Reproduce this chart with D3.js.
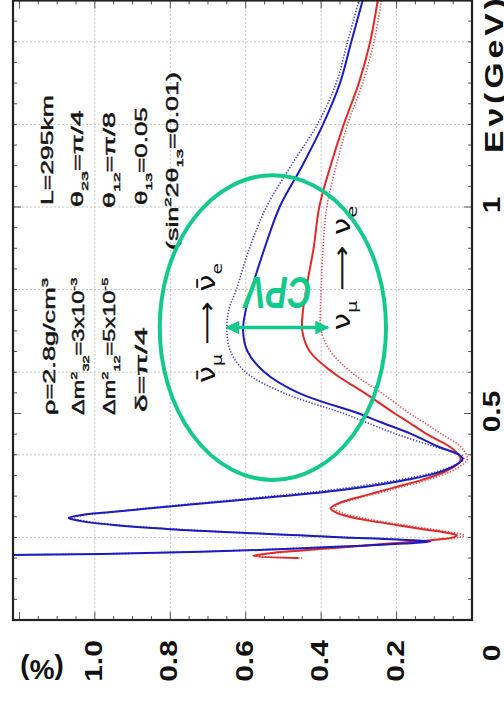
<!DOCTYPE html>
<html>
<head>
<meta charset="utf-8">
<script src="https://cdn.jsdelivr.net/npm/d3@7"></script>
<style>
  body { margin: 0; background: #fff; }
  svg { display: block; font-family: "Liberation Sans", Arial, sans-serif; }
</style>
</head>
<body>
<div id="chart"></div>
<script>
// neutrino energy (GeV), shared by all four curves
const energy = [0.150, 0.155, 0.160, 0.165, 0.170, 0.175, 0.180, 0.185, 0.190, 0.195,
  0.200, 0.205, 0.210, 0.220, 0.230, 0.240, 0.247, 0.255, 0.260, 0.270,
  0.280, 0.290, 0.300, 0.310, 0.320, 0.340, 0.360, 0.380, 0.390, 0.400,
  0.420, 0.450, 0.480, 0.500, 0.550, 0.600, 0.650, 0.700, 0.750, 0.800,
  0.900, 1.000, 1.100, 1.200, 1.300, 1.400, 1.500];

// anti-numu -> anti-nue probability (%), blue
const pAntiSolid = [1.60, 1.40, 0.98, 0.72, 0.55, 0.42, 0.29, 0.18, 0.11, 0.20,
  0.34, 0.46, 0.58, 0.80, 0.95, 1.04, 1.07, 1.03, 0.97, 0.86,
  0.74, 0.62, 0.50, 0.39, 0.30, 0.17, 0.08, 0.035, 0.025, 0.035,
  0.09, 0.16, 0.245, 0.30, 0.46, 0.55, 0.595, 0.607, 0.60, 0.585,
  0.55, 0.51, 0.45, 0.395, 0.35, 0.32, 0.29];
const pAntiDotted = [1.62, 1.42, 0.99, 0.74, 0.57, 0.43, 0.30, 0.19, 0.12, 0.19,
  0.33, 0.45, 0.57, 0.79, 0.94, 1.03, 1.06, 1.02, 0.97, 0.87,
  0.76, 0.64, 0.53, 0.42, 0.33, 0.19, 0.09, 0.035, 0.022, 0.03,
  0.10, 0.20, 0.285, 0.34, 0.50, 0.60, 0.64, 0.65, 0.645, 0.625,
  0.59, 0.545, 0.48, 0.41, 0.36, 0.33, 0.30];

// numu -> nue probability (%), red
const pNuSolid = [0.46, 0.58, 0.55, 0.50, 0.43, 0.36, 0.29, 0.22, 0.15, 0.09,
  0.05, 0.04, 0.06, 0.13, 0.20, 0.27, 0.31, 0.345, 0.36, 0.375,
  0.36, 0.33, 0.29, 0.25, 0.21, 0.13, 0.07, 0.035, 0.03, 0.035,
  0.06, 0.12, 0.17, 0.205, 0.285, 0.37, 0.43, 0.45, 0.448, 0.44,
  0.42, 0.405, 0.375, 0.34, 0.30, 0.27, 0.25];
const pNuDotted = [0.45, 0.57, 0.54, 0.49, 0.42, 0.35, 0.28, 0.21, 0.14, 0.08,
  0.035, 0.02, 0.04, 0.11, 0.18, 0.25, 0.29, 0.33, 0.345, 0.365,
  0.355, 0.32, 0.28, 0.235, 0.195, 0.115, 0.055, 0.02, 0.012, 0.015,
  0.03, 0.08, 0.13, 0.165, 0.24, 0.32, 0.375, 0.40, 0.402, 0.40,
  0.395, 0.385, 0.36, 0.33, 0.29, 0.26, 0.24];

const probTicks = [1.0, 0.8, 0.6, 0.4, 0.2];
const energyTicks = [0.5, 1];
const energyGrid = [0.2, 0.4, 0.6, 0.8, 1.0, 1.2, 1.4];

const width = 504, height = 706;
const green = "#14c98c";

const svg = d3.select("#chart").append("svg")
  .attr("width", width)
  .attr("height", height);

// the figure is turned a quarter turn: probability runs right to left, energy bottom to top
const x = d3.scaleLinear().domain([0, 1.217]).range([472, 13]);
const y = d3.scaleLinear().domain([0, 1.5]).range([620, 0.5]);

svg.append("clipPath").attr("id", "plot")
  .append("rect")
  .attr("x", x(1.217)).attr("y", y(1.5))
  .attr("width", x(0) - x(1.217)).attr("height", y(0) - y(1.5));

// grid
svg.selectAll(".vgrid").data(probTicks).enter().append("line")
  .attr("x1", d => x(d)).attr("x2", d => x(d))
  .attr("y1", y(0)).attr("y2", y(1.5))
  .attr("stroke", "#c4c4c4").attr("stroke-dasharray", "2,2");
svg.selectAll(".hgrid").data(energyGrid).enter().append("line")
  .attr("y1", d => y(d)).attr("y2", d => y(d))
  .attr("x1", x(0)).attr("x2", x(1.217))
  .attr("stroke", "#c4c4c4").attr("stroke-dasharray", "2,2");

// inner ticks
const pMinor = d3.range(1, 25).map(i => i * 0.05);
const eMinor = d3.range(1, 30).map(i => i * 0.05);
const isMajorP = d => Math.abs(d * 5 - Math.round(d * 5)) < 1e-6;
const isMajorE = d => Math.abs(d * 2 - Math.round(d * 2)) < 1e-6;
[y(0), y(1.5)].forEach((yy, k) => {
  svg.selectAll(null).data(pMinor).enter().append("line")
    .attr("x1", d => x(d)).attr("x2", d => x(d))
    .attr("y1", yy)
    .attr("y2", d => yy + (k ? 1 : -1) * (isMajorP(d) ? 8 : 4))
    .attr("stroke", "#555");
});
[x(0), x(1.217)].forEach((xx, k) => {
  svg.selectAll(null).data(eMinor).enter().append("line")
    .attr("y1", d => y(d)).attr("y2", d => y(d))
    .attr("x1", xx)
    .attr("x2", d => xx + (k ? 1 : -1) * (isMajorE(d) ? 8 : 4))
    .attr("stroke", "#555");
});

// curves
const curves = [
  { p: pNuDotted, color: "#e8504f", dash: "1.3,1.7", w: 1.6 },
  { p: pAntiDotted, color: "#4040d8", dash: "1.3,1.7", w: 1.6 },
  { p: pNuSolid, color: "#e02a2a", dash: null, w: 2 },
  { p: pAntiSolid, color: "#1c1cc0", dash: null, w: 2 }
];
const line = d3.line()
  .x(d => x(d[1]))
  .y(d => y(d[0]))
  .curve(d3.curveCatmullRom.alpha(0.5));
const gCurves = svg.append("g").attr("clip-path", "url(#plot)");
curves.forEach(c => {
  gCurves.append("path")
    .datum(energy.map((e, i) => [e, c.p[i]]))
    .attr("d", line)
    .attr("fill", "none")
    .attr("stroke", c.color)
    .attr("stroke-width", c.w)
    .attr("stroke-dasharray", c.dash);
});

// frame
svg.append("rect")
  .attr("x", x(1.217)).attr("y", y(1.5))
  .attr("width", x(0) - x(1.217)).attr("height", y(0) - y(1.5))
  .attr("fill", "none").attr("stroke", "#222").attr("stroke-width", 2.2);

// text helpers
function richText(g, segs, size, anchor) {
  const t = g.append("text").attr("font-size", size).attr("text-anchor", anchor);
  let cur = 0;
  segs.forEach(([s, m]) => {
    const shift = m === "sup" ? -0.42 * size : m === "sub" ? 0.3 * size : 0;
    t.append("tspan")
      .attr("dy", shift - cur)
      .attr("font-size", m ? size * 0.62 : size)
      .text(s);
    cur = shift;
  });
  return t;
}
function place(t, tx, ty, angle, target) {
  const w = t.node().getBBox().width;
  const s = target ? target / w : 1;
  t.attr("transform", `translate(${tx},${ty}) rotate(${angle}) scale(${s},1)`);
}

// parameter block (reads bottom to top)
const params = [
  { segs: [["ρ=2.8g/cm", ""], ["3", "sup"]], bx: 55, sy: 415, len: 138 },
  { segs: [["Δm", ""], ["2", "sup"], ["32", "sub"], ["=3x10", ""], ["-3", "sup"]], bx: 84, sy: 415, len: 138 },
  { segs: [["Δm", ""], ["2", "sup"], ["12", "sub"], ["=5x10", ""], ["-5", "sup"]], bx: 115, sy: 415, len: 138 },
  { segs: [["δ=π/4", ""]], bx: 147, sy: 412, len: 85 },
  { segs: [["L=295km", ""]], bx: 53, sy: 205, len: 110 },
  { segs: [["θ", ""], ["23", "sub"], ["=π/4", ""]], bx: 83, sy: 207, len: 97 },
  { segs: [["θ", ""], ["12", "sub"], ["=π/8", ""]], bx: 115, sy: 208, len: 96 },
  { segs: [["θ", ""], ["13", "sub"], ["=0.05", ""]], bx: 147, sy: 205, len: 98 },
  { segs: [["(sin", ""], ["2", "sup"], ["2θ", ""], ["13", "sub"], ["=0.01)", ""]], bx: 178, sy: 250, len: 178 }
];
params.forEach(p => {
  const t = richText(svg, p.segs, 16, "start")
    .attr("fill", "#151515").attr("stroke", "#151515").attr("stroke-width", 0.45);
  place(t, p.bx, p.sy, -90, p.len);
});

// channel labels
const antiLab = richText(svg, [["ν\u0304", ""], ["μ", "sub"], [" \u27F6 ", ""], ["ν\u0304", ""], ["e", "sub"]], 24, "middle")
  .attr("font-family", "DejaVu Sans, sans-serif").attr("fill", "#111");
place(antiLab, x(0.682), y(0.719), -90, 120);
const nuLab = richText(svg, [["ν", ""], ["μ", "sub"], [" \u27F6 ", ""], ["ν", ""], ["e", "sub"]], 24, "middle")
  .attr("font-family", "DejaVu Sans, sans-serif").attr("fill", "#111");
place(nuLab, x(0.324), y(0.852), -90, 125);

// green CP-violation marker
svg.append("ellipse")
  .attr("cx", x(0.528)).attr("cy", y(0.708))
  .attr("rx", x(0) - x(0.30)).attr("ry", y(0) - y(0.369))
  .attr("fill", "none").attr("stroke", green).attr("stroke-width", 4);

svg.append("defs").append("marker")
  .attr("id", "head").attr("viewBox", "0 0 10 10")
  .attr("refX", 9).attr("refY", 5)
  .attr("markerWidth", 4).attr("markerHeight", 4)
  .attr("orient", "auto-start-reverse")
  .append("path").attr("d", "M0,0L10,5L0,10Z").attr("fill", green);
svg.append("line")
  .attr("x1", x(0.65)).attr("x2", x(0.382))
  .attr("y1", y(0.708)).attr("y2", y(0.708))
  .attr("stroke", green).attr("stroke-width", 3.5)
  .attr("marker-start", "url(#head)").attr("marker-end", "url(#head)");

const cpv = svg.append("text")
  .attr("text-anchor", "middle")
  .attr("font-size", 44).attr("font-weight", "bold").attr("font-style", "italic")
  .attr("fill", green).text("CPV");
place(cpv, x(0.515), y(0.83), 180, 70);

// tick labels
probTicks.forEach(v => {
  const t = svg.append("text").attr("text-anchor", "middle")
    .attr("font-size", 24).attr("font-weight", "bold").attr("fill", "#111")
    .text(d3.format(".1f")(v));
  t.attr("transform", `translate(${x(v) + 7},661) rotate(-90) scale(1.25,1)`);
});
energyTicks.forEach(v => {
  const t = svg.append("text").attr("text-anchor", "middle")
    .attr("font-size", 24).attr("font-weight", "bold").attr("fill", "#111")
    .text(v);
  t.attr("transform", `translate(500,${y(v) - 2}) rotate(-90) scale(1.25,1)`);
});
svg.append("text").attr("text-anchor", "middle")
  .attr("font-size", 24).attr("font-weight", "bold").attr("fill", "#111")
  .attr("transform", `translate(500,${y(0) + 33}) rotate(-90) scale(1.25,1)`)
  .text("0");

// axis titles
svg.append("text")
  .attr("font-size", 26).attr("font-weight", "bold").attr("fill", "#111")
  .attr("letter-spacing", 3)
  .attr("transform", "translate(503,153) rotate(-90) scale(1.3,1)")
  .text("Eν(GeV)");
svg.append("text").attr("text-anchor", "middle")
  .attr("font-size", 28).attr("font-weight", "bold").attr("fill", "#111")
  .attr("transform", "translate(42,660) rotate(180)")
  .text("(%)");
</script>
</body>
</html>
